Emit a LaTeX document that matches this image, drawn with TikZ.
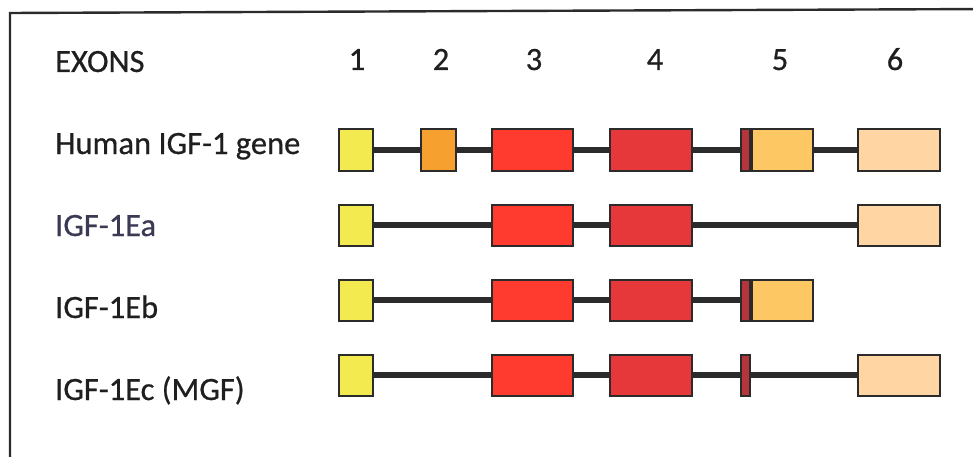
\documentclass[tikz,border=0pt]{standalone}
\usepackage{fontspec}
\setmainfont[FakeBold=0.6]{Carlito}
\usetikzlibrary{positioning}

\definecolor{exyellow}{HTML}{F2EA4E}
\definecolor{exorange}{HTML}{F6A030}
\definecolor{exred}{HTML}{FF3B30}
\definecolor{exdeep}{HTML}{E6383A}
\definecolor{exstrip}{HTML}{B5363A}
\definecolor{exgold}{HTML}{FDC864}
\definecolor{expeach}{HTML}{FED5A3}
\definecolor{inkline}{HTML}{2B2B2B}
\definecolor{slate}{HTML}{3B3A55}

\begin{document}
\begin{tikzpicture}[x=1pt, y=-1pt,
  exon/.style={draw=inkline, line width=2pt, inner sep=0pt,
               minimum height=41pt, anchor=west},
  intron/.style={draw=inkline, line width=5.5pt},
  lab/.style={font=\fontsize{32.5}{36}\selectfont, text=black!88, anchor=base west, inner sep=0pt},
  num/.style={font=\fontsize{32.5}{36}\selectfont, text=black!88, anchor=base, inner sep=0pt}]
  \useasboundingbox (0,0) rectangle (973,457);
  \draw[line width=2.4pt, inkline] (10,470) -- (10,13) -- (990,9);

  \node[lab] (exons) at (55,72) {EXONS};
  \node[num] (n1) at (357,70) {1};
  \node[num] (n2) at (441,70) {2};
  \node[num] (n3) at (534,70) {3};
  \node[num] (n4) at (655,70) {4};
  \node[num] (n5) at (780,70) {5};
  \node[num] (n6) at (895,70) {6};

  \node[lab] (lgene) at (55,154) {Human IGF-1 gene};
  \node[lab, text=slate] (lea) at (55,236) {IGF-1Ea};
  \node[lab] (leb) at (55,318) {IGF-1Eb};
  \node[lab] (lec) at (55,400) {IGF-1Ec (MGF)};

  % human gene
  \node[exon, fill=exyellow, minimum width=34pt] (g1) at (338,150) {};
  \node[exon, fill=exorange, minimum width=35pt] (g2) at (420,150) {};
  \node[exon, fill=exred, minimum width=81pt] (g3) at (491,150) {};
  \node[exon, fill=exdeep, minimum width=82pt] (g4) at (609,150) {};
  \node[exon, fill=exstrip, minimum width=9pt] (g5s) at (740,150) {};
  \node[exon, fill=exgold, minimum width=61pt] (g5) at (g5s.east) {};
  \node[exon, fill=expeach, minimum width=82pt] (g6) at (857,150) {};
  \draw[intron] (g1.east) -- (g2.west);
  \draw[intron] (g2.east) -- (g3.west);
  \draw[intron] (g3.east) -- (g4.west);
  \draw[intron] (g4.east) -- (g5s.west);
  \draw[intron] (g5.east) -- (g6.west);

  % IGF-1Ea
  \node[exon, fill=exyellow, minimum width=34pt] (a1) at (338,225) {};
  \node[exon, fill=exred, minimum width=81pt] (a3) at (491,225) {};
  \node[exon, fill=exdeep, minimum width=82pt] (a4) at (609,225) {};
  \node[exon, fill=expeach, minimum width=82pt] (a6) at (857,225) {};
  \draw[intron] (a1.east) -- (a3.west);
  \draw[intron] (a3.east) -- (a4.west);
  \draw[intron] (a4.east) -- (a6.west);

  % IGF-1Eb
  \node[exon, fill=exyellow, minimum width=34pt] (b1) at (338,300) {};
  \node[exon, fill=exred, minimum width=81pt] (b3) at (491,300) {};
  \node[exon, fill=exdeep, minimum width=82pt] (b4) at (609,300) {};
  \node[exon, fill=exstrip, minimum width=9pt] (b5s) at (740,300) {};
  \node[exon, fill=exgold, minimum width=61pt] (b5) at (b5s.east) {};
  \draw[intron] (b1.east) -- (b3.west);
  \draw[intron] (b3.east) -- (b4.west);
  \draw[intron] (b4.east) -- (b5s.west);

  % IGF-1Ec (MGF)
  \node[exon, fill=exyellow, minimum width=34pt] (c1) at (338,375) {};
  \node[exon, fill=exred, minimum width=81pt] (c3) at (491,375) {};
  \node[exon, fill=exdeep, minimum width=82pt] (c4) at (609,375) {};
  \node[exon, fill=exstrip, minimum width=9pt] (c5s) at (740,375) {};
  \node[exon, fill=expeach, minimum width=82pt] (c6) at (857,375) {};
  \draw[intron] (c1.east) -- (c3.west);
  \draw[intron] (c3.east) -- (c4.west);
  \draw[intron] (c4.east) -- (c5s.west);
  \draw[intron] (c5s.east) -- (c6.west);
\end{tikzpicture}
\end{document}
